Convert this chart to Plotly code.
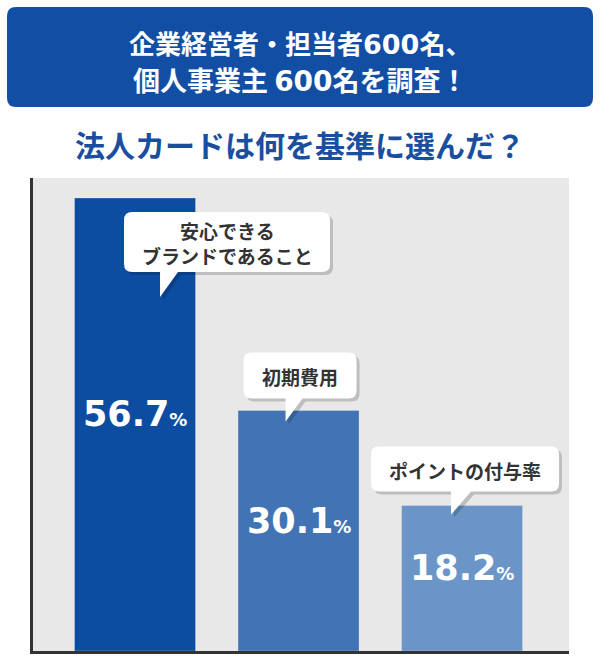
import plotly.graph_objects as go

# ---- data ----
categories = ["安心できる<br>ブランドであること", "初期費用", "ポイントの付与率"]
values = [56.7, 30.1, 18.2]
bar_colors = ["#0C4DA2", "#4173B5", "#6B95C7"]
header_lines = ["企業経営者・担当者{n}名、", "個人事業主 {n}名を調査！"]
header_number = "600"
title_text = "法人カードは何を基準に選んだ？"

# ---- layout geometry (pixels) ----
W, H = 600, 670
ML, MR, MT, MB = 33, 31, 178, 19
PW = W - ML - MR
PH = H - MT - MB
YMAX = 59.2
XR = [-0.624, 2.654]

JP = "Noto Sans CJK JP"
NUM = "DejaVu Sans"

fig = go.Figure()
fig.add_trace(go.Bar(
    x=list(range(len(values))), y=values, width=0.74,
    marker=dict(color=bar_colors, line=dict(width=1, color="rgba(255,255,255,0.25)")),
    hoverinfo="skip",
))


def bubble_path(L, R, T, B, t1=None, t2=None, ty=None, r=8):
    tail = f"L {t2},{B} L {t1},{ty} L {t1},{B} " if t1 is not None else ""
    return (f"M {L+r},{T} L {R-r},{T} Q {R},{T} {R},{T-r} L {R},{B+r} "
            f"Q {R},{B} {R-r},{B} {tail}"
            f"L {L+r},{B} Q {L},{B} {L},{B+r} L {L},{T-r} Q {L},{T} {L+r},{T} Z")


# bubble geometry relative to bar top (x px offset from bar center, y px up from bar top)
bubbles = [
    dict(L=-11, R=195, T=-14, B=-74, t1=25, t2=43, ty=-99),
    dict(L=-55, R=58, T=58, B=12, t1=-13, t2=4, ty=-11),
    dict(L=-91, R=97, T=59, B=14, t1=-11, t2=9, ty=-9),
]

shapes = []
annotations = []
for i, (cat, v, b) in enumerate(zip(categories, values, bubbles)):
    sd = 3
    shapes.append(dict(
        type="path", xref="x", yref="y", xsizemode="pixel", ysizemode="pixel",
        xanchor=i, yanchor=v,
        path=bubble_path(b["L"] + sd, b["R"] + sd, b["T"] - sd, b["B"] - sd,
                         b["t1"] + sd, b["t2"] + sd, b["ty"] - sd),
        fillcolor="rgba(0,0,0,0.18)", line=dict(width=0), layer="above"))
    shapes.append(dict(
        type="path", xref="x", yref="y", xsizemode="pixel", ysizemode="pixel",
        xanchor=i, yanchor=v,
        path=bubble_path(b["L"], b["R"], b["T"], b["B"], b["t1"], b["t2"], b["ty"]),
        fillcolor="#FFFFFF", line=dict(width=0), layer="above"))
    annotations.append(dict(
        x=i, y=v, xref="x", yref="y", showarrow=False,
        xshift=(b["L"] + b["R"]) / 2, yshift=(b["T"] + b["B"]) / 2 - 1,
        text=f"<b>{cat}</b>", font=dict(family=JP, size=19, color="#333333"),
        align="center"))
    annotations.append(dict(
        x=i, y=v / 2, xref="x", yref="y", showarrow=False, yshift=10,
        text=f"<b>{v}<span style='font-size:18px'>%</span></b>",
        font=dict(family=NUM, size=35, color="#FFFFFF")))

# header box (paper anchored at plot top-left)
shapes.insert(0, dict(
    type="path", xref="paper", yref="paper", xsizemode="pixel", ysizemode="pixel",
    xanchor=0, yanchor=1,
    path=bubble_path(7 - ML, 593 - ML, MT - 7, MT - 107, r=9),
    fillcolor="#124FA4", line=dict(width=0), layer="below"))

cx = (300 - ML) / PW
for txt, py, fs in zip(header_lines, [42, 79], [26, 27]):
    num_html = f"<span style='font-family:{NUM};font-size:{fs + 1}px'>{header_number}</span>"
    annotations.append(dict(
        x=cx, y=1, xref="paper", yref="paper", showarrow=False,
        yanchor="middle", yshift=MT - py, text=f"<b>{txt.format(n=num_html)}</b>",
        font=dict(family=JP, size=fs, color="#FFFFFF")))
annotations.append(dict(
    x=cx, y=1, xref="paper", yref="paper", showarrow=False,
    yanchor="middle", yshift=MT - 144, text=f"<b>{title_text}</b>",
    font=dict(family=JP, size=30, color="#1A4E9E")))

fig.update_layout(
    width=W, height=H, autosize=False,
    margin=dict(l=ML, r=MR, t=MT, b=MB, pad=0),
    paper_bgcolor="#FFFFFF", plot_bgcolor="#E8E8E8",
    showlegend=False, shapes=shapes, annotations=annotations,
    xaxis=dict(range=XR, showgrid=False, zeroline=False, showticklabels=False,
               showline=True, linewidth=3, linecolor="#333333", ticks="", fixedrange=True),
    yaxis=dict(range=[0, YMAX], showgrid=False, zeroline=False, showticklabels=False,
               showline=True, linewidth=3, linecolor="#333333", ticks="", fixedrange=True),
)

fig.write_html("out.html")
